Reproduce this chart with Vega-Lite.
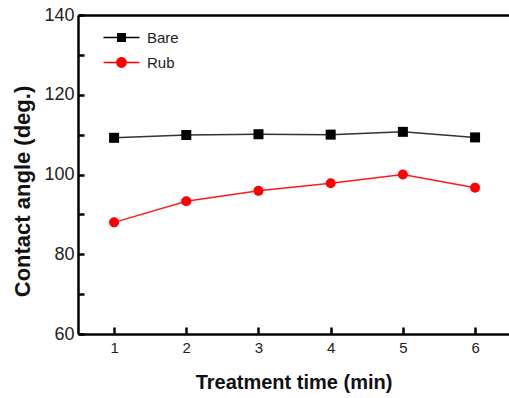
{
  "$schema": "https://vega.github.io/schema/vega-lite/v6.json",
  "width": 431,
  "height": 319,
  "autosize": "none",
  "padding": {"left": 78, "top": 15, "right": 0, "bottom": 64},
  "background": "white",
  "config": {"view": {"stroke": null}, "font": "Liberation Sans"},
  "data": {"values": [
    {"t": 1, "angle": 109.2, "series": "Bare"},
    {"t": 2, "angle": 109.9, "series": "Bare"},
    {"t": 3, "angle": 110.1, "series": "Bare"},
    {"t": 4, "angle": 110.0, "series": "Bare"},
    {"t": 5, "angle": 110.7, "series": "Bare"},
    {"t": 6, "angle": 109.3, "series": "Bare"},
    {"t": 1, "angle": 88.0, "series": "Rub"},
    {"t": 2, "angle": 93.3, "series": "Rub"},
    {"t": 3, "angle": 95.9, "series": "Rub"},
    {"t": 4, "angle": 97.8, "series": "Rub"},
    {"t": 5, "angle": 100.0, "series": "Rub"},
    {"t": 6, "angle": 96.7, "series": "Rub"}
  ]},
  "resolve": {"axis": {"x": "independent", "y": "independent"}, "scale": {"shape": "independent", "color": "independent"}},
  "layer": [
    {
      "mark": {"type": "line", "strokeWidth": 1.5},
      "encoding": {
        "x": {"field": "t", "type": "quantitative", "scale": {"domain": [0.5, 6.47], "nice": false, "zero": false},
          "axis": {"orient": "bottom", "zindex": 1, "values": [1, 1.5, 2, 2.5, 3, 3.5, 4, 4.5, 5, 5.5, 6], "format": "d", "labelExpr": "datum.value % 1 == 0 ? datum.label : ''", "grid": false, "tickSize": {"condition": {"test": "datum.value % 1 == 0", "value": -7}, "value": -3}, "tickWidth": 2.5, "tickColor": "black", "domainColor": "black", "domainWidth": 2.5, "labelFontSize": 15, "labelColor": "#222", "labelPadding": 13, "title": "Treatment time (min)", "titleFontSize": 20, "titleFontWeight": "bold", "titleColor": "#111", "titlePadding": 17}},
        "y": {"field": "angle", "type": "quantitative", "scale": {"domain": [60, 140], "nice": false, "zero": false},
          "axis": {"orient": "left", "zindex": 1, "values": [60, 70, 80, 90, 100, 110, 120, 130, 140], "format": "d", "labelExpr": "datum.value % 20 == 0 ? datum.label : ''", "grid": false, "tickSize": -6, "tickWidth": 2.5, "tickColor": "black", "domainColor": "black", "domainWidth": 2.5, "labelFontSize": 18, "labelColor": "#222", "labelPadding": 10, "title": "Contact angle (deg.)", "titleFontSize": 22, "titleFontWeight": "bold", "titleColor": "#111", "titlePadding": 9, "titleY": 176}},
        "color": {"field": "series", "type": "nominal", "scale": {"domain": ["Bare", "Rub"], "range": ["#333333", "#ff1a1a"]}, "legend": null}
      }
    },
    {
      "mark": {"type": "point", "filled": true, "opacity": 1, "size": 100},
      "encoding": {
        "x": {"field": "t", "type": "quantitative", "scale": {"domain": [0.5, 6.47], "nice": false, "zero": false}, "axis": null},
        "y": {"field": "angle", "type": "quantitative", "scale": {"domain": [60, 140], "nice": false, "zero": false}, "axis": null},
        "color": {"field": "series", "type": "nominal", "scale": {"domain": ["Bare", "Rub"], "range": ["#000000", "#ff0000"]}, "legend": null},
        "shape": {"field": "series", "type": "nominal", "scale": {"domain": ["Bare", "Rub"], "range": ["square", "circle"]}, "legend": null}
      }
    },
    {
      "transform": [{"filter": "datum.t > 100"}],
      "mark": {"type": "point", "filled": true, "opacity": 1},
      "encoding": {
        "x": {"field": "t", "type": "quantitative", "scale": {"domain": [0.5, 6.47], "nice": false, "zero": false},
          "axis": {"orient": "top", "zindex": 1, "labels": false, "ticks": false, "title": null, "grid": false, "domainColor": "black", "domainWidth": 2.5}},
        "y": {"field": "angle", "type": "quantitative", "scale": {"domain": [60, 140], "nice": false, "zero": false}, "axis": null},
        "color": {"field": "series", "type": "nominal", "scale": {"domain": ["Bare", "Rub"], "range": ["#000000", "#ff0000"]},
          "legend": {"title": null, "orient": "none", "legendX": 36, "legendY": 15, "labelFontSize": 15, "labelColor": "#222", "labelOffset": 18, "rowPadding": 9, "symbolSize": 81, "symbolStrokeWidth": 0, "padding": 0}},
        "shape": {"field": "series", "type": "nominal", "scale": {"domain": ["Bare", "Rub"], "range": ["M-4,-0.17H4V0.17H-4Z M-1,-1H1V1H-1Z", "M-4,-0.17H4V0.17H-4Z M-1.2,0A1.2,1.2,0,1,1,1.2,0A1.2,1.2,0,1,1,-1.2,0Z"]}}
      }
    }
  ]
}
